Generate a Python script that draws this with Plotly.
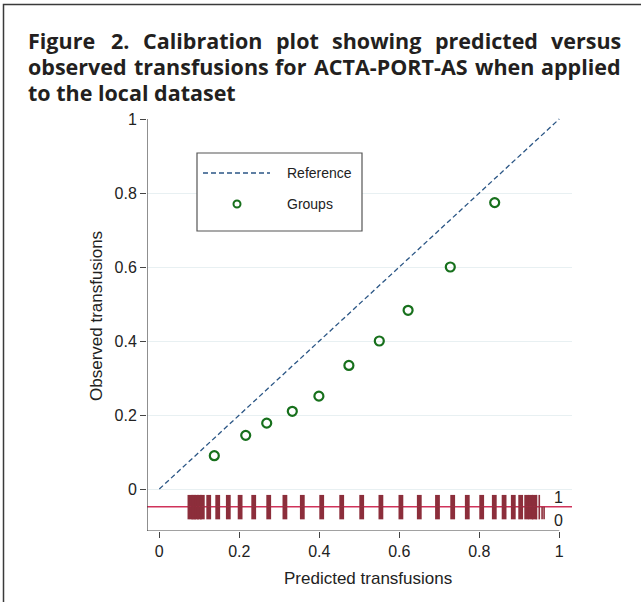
import plotly.graph_objects as go

# ---------------- data ----------------
pred_groups = [0.1375, 0.216, 0.2685, 0.3325, 0.399, 0.474, 0.550, 0.622, 0.7275, 0.8385]
obs_groups = [0.090, 0.145, 0.178, 0.210, 0.251, 0.334, 0.400, 0.483, 0.600, 0.774]

ref_x = [0, 1]
ref_y = [0, 1]

# predicted probabilities (clusters) with observed outcome 1 (transfused) / 0
spikes_event = [0.0725, 0.080, 0.086, 0.093, 0.100, 0.1075, 0.1235, 0.146, 0.1725,
                0.202, 0.236, 0.2735, 0.314, 0.3575, 0.406, 0.456, 0.506, 0.554,
                0.604, 0.650, 0.6955, 0.7335, 0.770, 0.806, 0.8375, 0.862, 0.885,
                0.9035, 0.9185, 0.929, 0.9375, 0.943, 0.950]
spikes_nonevent = [0.0725, 0.080, 0.086, 0.093, 0.100, 0.1075, 0.1235, 0.146, 0.1725,
                   0.202, 0.236, 0.2735, 0.314, 0.3575, 0.406, 0.456, 0.506, 0.554,
                   0.604, 0.650, 0.6955, 0.7335, 0.770, 0.806, 0.8375, 0.862, 0.885,
                   0.9035, 0.9185, 0.929, 0.9375, 0.943, 0.950, 0.957, 0.962]

y_ticks = [0, 0.2, 0.4, 0.6, 0.8, 1]
y_ticklabels = ["0", "0.2", "0.4", "0.6", "0.8", "1"]
x_ticks = [0, 0.2, 0.4, 0.6, 0.8, 1]
x_ticklabels = ["0", "0.2", "0.4", "0.6", "0.8", "1"]

title_line1 = ["Figure", "2.", "Calibration", "plot", "showing", "predicted", "versus"]
title_line2 = ["observed", "transfusions", "for", "ACTA-PORT-AS", "when", "applied"]
title_line3 = "to the local dataset"

# ---------------- layout geometry ----------------
W, H = 641, 602
ML, MR, MT, MB = 147, 69, 118, 71
PW, PH = W - ML - MR, H - MT - MB
XR = [-0.0308, 1.0318]
YR = [-0.1135, 1.0027]
SPIKE_BASE = -0.048
SPIKE_UP = -0.016
SPIKE_DN = -0.082


def px(xp):
    return (xp - ML) / PW


def py(yp):
    return (H - MB - yp) / PH


FONT = "Liberation Sans, Arial, Helvetica, sans-serif"
TFONT = "Open Sans, Noto Sans, sans-serif"
SPIKE_COL = "#8c2e3b"

fig = go.Figure()


def spike_trace(vals, y0, y1, width):
    xs, ys = [], []
    for v in vals:
        xs += [v, v, None]
        ys += [y0, y1, None]
    return go.Scatter(x=xs, y=ys, mode="lines", line=dict(color=SPIKE_COL, width=width),
                      hoverinfo="skip", showlegend=False)


def split(vals):
    thick = [v for v in vals if 0.075 < v < 0.94]
    thin = [v for v in vals if not (0.075 < v < 0.94)]
    return thick, thin


ev_thick, ev_thin = split(spikes_event)
ne_thick, ne_thin = split(spikes_nonevent)
fig.add_trace(spike_trace(ev_thick, SPIKE_BASE, SPIKE_UP, 4.8))
fig.add_trace(spike_trace(ev_thin, SPIKE_BASE, SPIKE_UP, 1.6))
fig.add_trace(spike_trace(ne_thick, SPIKE_BASE, SPIKE_DN, 4.8))
fig.add_trace(spike_trace(ne_thin, SPIKE_BASE, SPIKE_DN, 1.6))

# reference line
fig.add_trace(go.Scatter(x=ref_x, y=ref_y, mode="lines",
                         line=dict(color="#2b5685", width=1.3, dash="5px,3px"),
                         showlegend=False, hoverinfo="skip"))
# groups
fig.add_trace(go.Scatter(x=pred_groups, y=obs_groups, mode="markers",
                         marker=dict(symbol="circle-open", size=9, color="#17701c",
                                     line=dict(width=2.2, color="#17701c")),
                         showlegend=False))

shapes = []
shapes.append(dict(type="line", xref="x domain", yref="y", x0=0, x1=1,
                   y0=SPIKE_BASE, y1=SPIKE_BASE, line=dict(color="#d0325a", width=1.6),
                   layer="below"))
shapes.append(dict(type="line", xref="x", yref="y", x0=XR[0], x1=1, y0=YR[0], y1=YR[0],
                   line=dict(color="#444", width=1.2)))
shapes.append(dict(type="line", xref="x", yref="y", x0=XR[0], x1=XR[0], y0=YR[0], y1=1,
                   line=dict(color="#444", width=1.2)))
shapes.append(dict(type="rect", xref="paper", yref="paper", x0=px(197), x1=px(362),
                   y0=py(231), y1=py(153), line=dict(color="#555", width=1.2),
                   fillcolor="white"))
shapes.append(dict(type="line", xref="paper", yref="paper", x0=px(203), x1=px(270),
                   y0=py(173), y1=py(173),
                   line=dict(color="#2b5685", width=1.3, dash="5px,3px")))
shapes.append(dict(type="circle", xref="paper", yref="paper", x0=px(233.5), x1=px(240.5),
                   y0=py(207.5), y1=py(200.5), line=dict(color="#17701c", width=2)))
# outer frame
shapes.append(dict(type="rect", xref="paper", yref="paper", x0=px(3.5), x1=px(700),
                   y0=py(700), y1=py(4.5), line=dict(color="#3a3a3a", width=1.5)))

ann = []
ann.append(dict(text="Reference", xref="paper", yref="paper", x=px(285), y=py(173),
                xanchor="left", yanchor="middle", showarrow=False,
                font=dict(family=FONT, size=14, color="#222")))
ann.append(dict(text="Groups", xref="paper", yref="paper", x=px(285), y=py(204),
                xanchor="left", yanchor="middle", showarrow=False,
                font=dict(family=FONT, size=14, color="#222")))
ann.append(dict(text="1", xref="x", yref="y", x=0.997, y=-0.022, xanchor="center",
                yanchor="middle", showarrow=False, font=dict(family=FONT, size=16, color="#222")))
ann.append(dict(text="0", xref="x", yref="y", x=0.997, y=-0.084, xanchor="center",
                yanchor="middle", showarrow=False, font=dict(family=FONT, size=16, color="#222")))
ann.append(dict(text="Predicted transfusions", xref="paper", yref="paper", x=px(368), y=py(578),
                xanchor="center", yanchor="middle", showarrow=False,
                font=dict(family=FONT, size=17, color="#222")))
ann.append(dict(text="Observed transfusions", xref="paper", yref="paper", x=px(96), y=py(316),
                xanchor="center", yanchor="middle", showarrow=False, textangle=-90,
                font=dict(family=FONT, size=17, color="#222")))

# justified title
tfont = dict(family=TFONT, size=21.5, color="#231f20")
line1_centers = [None, 120, 202.5, 297.5, 376, 486.5, None]
line2_centers = [None, 201, 291, 391, 504, None]


def add_line(words, centers, ypix):
    for i, w in enumerate(words):
        if i == 0:
            x, anc = px(27), "left"
        elif i == len(words) - 1:
            x, anc = px(622), "right"
        else:
            x, anc = px(centers[i]), "center"
        ann.append(dict(text="<b>%s</b>" % w, xref="paper", yref="paper", x=x, y=py(ypix),
                        xanchor=anc, yanchor="middle", showarrow=False, font=tfont,
                        borderpad=0))


add_line(title_line1, line1_centers, 40)
add_line(title_line2, line2_centers, 66)
ann.append(dict(text="<b>%s</b>" % title_line3, xref="paper", yref="paper", x=px(27), y=py(92),
                xanchor="left", yanchor="middle", showarrow=False, font=tfont, borderpad=0))

fig.update_layout(
    width=W, height=H,
    margin=dict(l=ML, r=MR, t=MT, b=MB, autoexpand=False),
    paper_bgcolor="white", plot_bgcolor="white",
    showlegend=False,
    shapes=shapes, annotations=ann,
    xaxis=dict(range=XR, tickvals=x_ticks, ticktext=x_ticklabels, showgrid=False,
               zeroline=False, showline=False, ticks="outside", ticklen=6, tickcolor="#444",
               tickfont=dict(family=FONT, size=16, color="#222")),
    yaxis=dict(range=YR, tickvals=y_ticks, ticktext=y_ticklabels, showgrid=True,
               gridcolor="#e8f0f2", gridwidth=1.2, zeroline=False, showline=False,
               ticks="outside", ticklen=6, tickcolor="#444",
               tickfont=dict(family=FONT, size=16, color="#222")),
)

fig.write_html("out.html", config={"displayModeBar": False},
               post_script="document.body.style.margin='0';")
